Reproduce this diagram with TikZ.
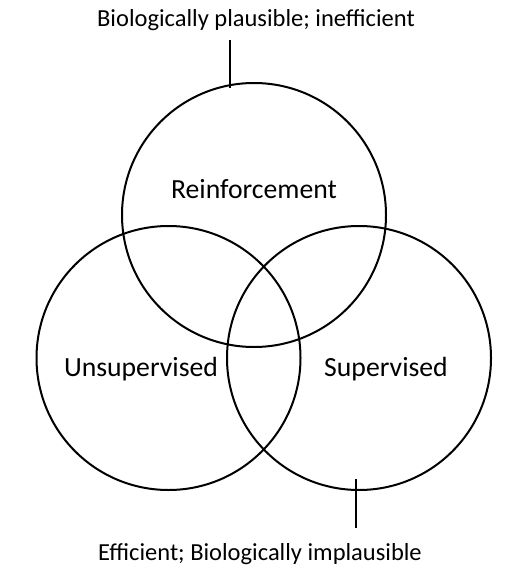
\documentclass[tikz,border=0pt]{standalone}
\usepackage{fontspec}
\setmainfont{Carlito}
\begin{document}
\begin{tikzpicture}[x=1pt,y=-1pt,every node/.style={font=\fontsize{27.7}{32}\selectfont}]
  \useasboundingbox (0,0) rectangle (519,575);
  % the three sets
  \node[draw,line width=2pt,circle,minimum size=264pt,inner sep=0pt] (reinf) at (254,215) {};
  \node[draw,line width=2pt,circle,minimum size=264pt,inner sep=0pt] (unsup) at (168.5,358) {};
  \node[draw,line width=2pt,circle,minimum size=264pt,inner sep=0pt] (sup) at (359,358) {};
  \node[anchor=base] (reinflabel) at (254,198) {Reinforcement};
  \node[anchor=base] (unsuplabel) at (141,376) {Unsupervised};
  \node[anchor=base] (suplabel) at (386,376) {Supervised};
  % remarks
  \node[anchor=base,font=\fontsize{24.5}{29}\selectfont] (plausible) at (256,27) {Biologically plausible; inefficient};
  \node[anchor=base,font=\fontsize{24.5}{29}\selectfont] (efficient) at (260,560) {Efficient; Biologically implausible};
  \coordinate (toptip) at (230,40);
  \coordinate (topend) at (230,88);
  \coordinate (bottip) at (356,528);
  \coordinate (botend) at (356,479);
  \draw[line width=1.6pt] (toptip) -- (topend);
  \draw[line width=1.6pt] (botend) -- (bottip);
\end{tikzpicture}
\end{document}
